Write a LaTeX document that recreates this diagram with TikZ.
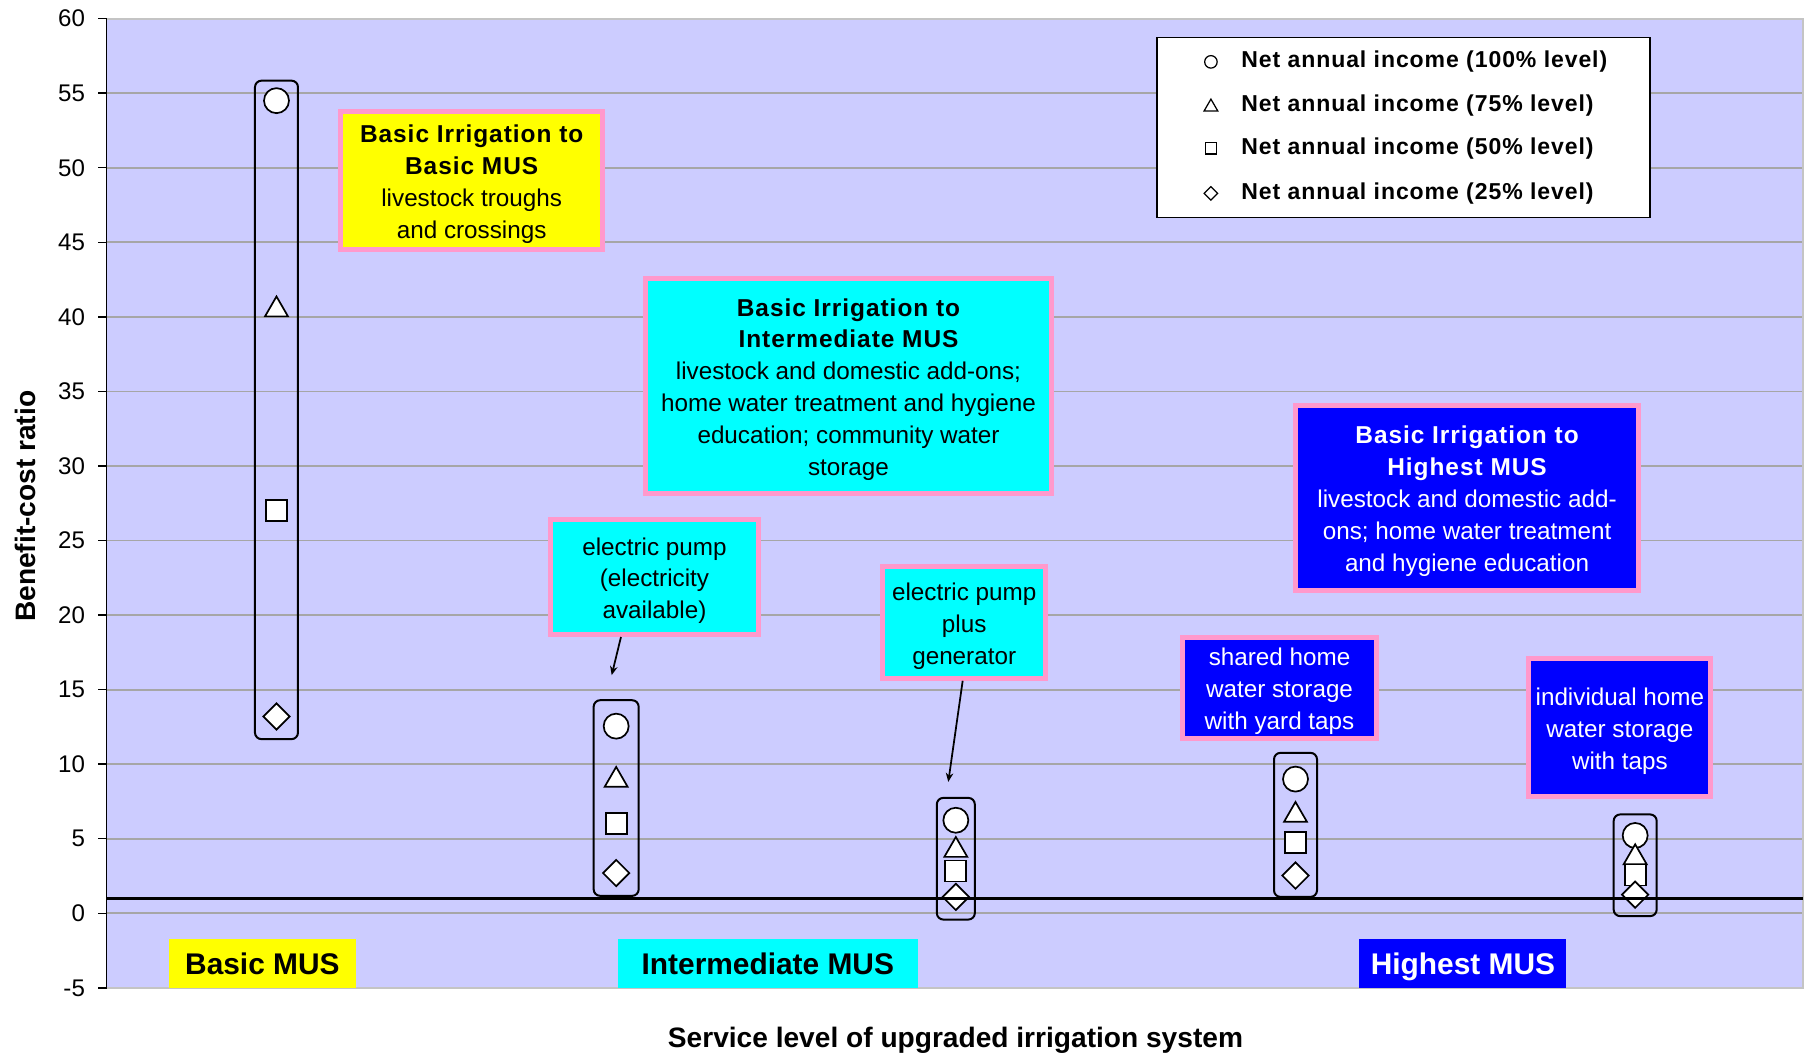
\documentclass[tikz,border=0pt]{standalone}
\usepackage{fontspec}
\setmainfont{Liberation Sans}
\newfontfamily\spacedfont[LetterSpace=4]{Liberation Sans}
\usetikzlibrary{arrows.meta,positioning,shapes.geometric}
\definecolor{plotbg}{HTML}{CCCCFF}
\definecolor{rim}{HTML}{FF99CC}
\definecolor{gridgray}{HTML}{A6A6A6}
\definecolor{edgegray}{HTML}{C4C4C4}
\definecolor{basicyellow}{HTML}{FFFF00}
\definecolor{midcyan}{HTML}{00FFFF}
\definecolor{topblue}{HTML}{0000FF}
\newcommand{\tfont}{\spacedfont\bfseries\fontsize{13.9}{18.2}\selectfont}
\newcommand{\topgap}{\rule{0pt}{14pt}}
\tikzset{
  gridline/.style={gridgray,line width=0.035cm},
  axisline/.style={black,line width=0.03cm},
  note/.style={draw=rim,line width=0.1cm,inner sep=0pt,align=center,
    font=\fontsize{13.8}{18.2}\selectfont},
  cattag/.style={inner sep=0pt,minimum height=0.968cm,text depth=0pt,
    font=\bfseries\fontsize{17}{20}\selectfont},
  groupbox/.style={draw,line width=0.04cm,rounded corners=0.13cm},
  mk/.style={draw,fill=white,line width=0.034cm,inner sep=0pt},
  mcirc/.style={mk,circle,minimum size=#1},
  mcirc/.default=0.5cm,
  mtri/.style={mk,regular polygon,regular polygon sides=3,minimum size=#1,yshift=-#1/8},
  mtri/.default=0.53cm,
  msq/.style={mk,rectangle,minimum size=#1},
  msq/.default=0.42cm,
  mdia/.style={mk,diamond,minimum size=#1},
  mdia/.default=0.54cm,
  ticklabel/.style={anchor=east,inner sep=0pt,font=\fontsize{13.7}{16}\selectfont},
  axislabel/.style={inner sep=0pt,font=\bfseries\fontsize{16}{18}\selectfont},
  legtext/.style={anchor=west,inner sep=0pt,
    font=\spacedfont\bfseries\fontsize{13.1}{16}\selectfont},
  pointer/.style={-{Stealth[length=0.18cm,width=0.15cm]},line width=0.035cm}
}

\begin{document}
\begin{tikzpicture}[x=6.793cm,y=0.2982cm]
  \path[use as bounding box,fill=white] (0.186,-9.39) rectangle (5.5,61.25);
  % plot area, grid and axis
  \fill[plotbg] (0.5,-5) rectangle (5.494,60);
  \foreach \v in {0,5,...,55}{\draw[gridline] (0.5,\v) -- (5.494,\v);}
  \draw[edgegray,line width=0.04cm] (0.5,60) -- (5.494,60) -- (5.494,-5) -- (0.5,-5);
  \draw[axisline] (0.5,-5) -- (0.5,60);
  \foreach \v in {-5,0,...,60}{
    \draw[axisline] (0.5,\v) -- ++(-0.18cm,0) node[ticklabel,xshift=-0.24cm] (tl\v) {\v};
  }
  \node[axislabel,rotate=90] (ylab) at (0.2595,27.3) {Benefit-cost ratio};
  \node[axislabel] (xlab) at (2.999,-8.55) {Service level of upgraded irrigation system};

  % ratio ranges per option
  \foreach \k/\w/\lo/\hi/\circv/\triv/\sqv/\diav in {
      1/0.43/11.68/55.84/54.5/40.7/27.0/13.2,
      2/0.45/1.17/14.29/12.55/9.15/6.0/2.7,
      3/0.38/-0.42/7.74/6.24/4.45/2.84/1.1,
      4/0.43/1.10/10.76/9.0/6.8/4.73/2.53,
      5/0.43/-0.19/6.63/5.22/3.96/2.56/1.25}{
    \draw[groupbox] ([xshift=-\w cm]\k,\lo) rectangle ([xshift=\w cm]\k,\hi);
    \node[mcirc] (c\k) at (\k,\circv) {};
    \node[mtri] (t\k) at (\k,\triv) {};
    \node[msq] (s\k) at (\k,\sqv) {};
    \node[mdia] (d\k) at (\k,\diav) {};
  }
  % break-even line
  \draw[line width=0.06cm] (0.5,1) -- (5.494,1);

  % notes
  \node[note,fill=basicyellow,minimum width=5.23cm,minimum height=2.75cm] (basic) at (1.5746,49.13)
    {\topgap{\tfont Basic Irrigation to}\\{\tfont Basic MUS}\\livestock troughs\\and crossings};
  \node[note,fill=midcyan,minimum width=8.13cm,minimum height=4.30cm] (inter) at (2.684,35.35)
    {\topgap{\tfont Basic Irrigation to}\\{\tfont Intermediate MUS}\\livestock and domestic add-ons;\\
     home water treatment and hygiene\\education; community water\\storage};
  \node[note,fill=topblue,text=white,minimum width=6.85cm,minimum height=3.71cm] (high) at (4.505,27.84)
    {\topgap{\tfont Basic Irrigation to}\\{\tfont Highest MUS}\\livestock and domestic add-\\
     ons; home water treatment\\and hygiene education};
  \node[note,fill=midcyan,minimum width=4.15cm,minimum height=2.29cm] (elec) at (2.1128,22.54)
    {\topgap electric pump\\(electricity\\available)};
  \node[note,fill=midcyan,minimum width=3.27cm,minimum height=2.23cm] (gen) at (3.0246,19.50)
    {\topgap electric pump\\plus\\generator};
  \node[note,fill=topblue,text=white,minimum width=3.88cm,minimum height=2.01cm] (shared) at (3.953,15.10)
    {\topgap shared home\\water storage\\with yard taps};
  \node[note,fill=topblue,text=white,minimum width=3.64cm,minimum height=2.75cm] (indiv) at (4.955,12.47)
    {\topgap individual home\\water storage\\with taps};

  \coordinate (tipA) at (1.9868,15.97);
  \coordinate (tipB) at (2.9778,8.81);
  \draw[pointer] ([xshift=-0.67cm]elec.south) -- (tipA);
  \draw[pointer] ([xshift=-0.03cm]gen.south) -- (tipB);

  % legend
  \node[draw,fill=white,line width=0.03cm,inner sep=0pt,minimum width=9.86cm,minimum height=3.6cm]
    (leg) at (4.318,52.70) {};
  \node[mcirc=0.25cm,line width=0.025cm] (lc) at (3.751,57.10) {};
  \node[mtri=0.32cm,line width=0.025cm] (lt) at (3.751,54.20) {};
  \node[msq=0.23cm,line width=0.025cm] (ls) at (3.751,51.30) {};
  \node[mdia=0.28cm,line width=0.025cm] (ld) at (3.751,48.28) {};
  \node[legtext] (lcx) at (3.8395,57.10) {Net annual income (100\% level)};
  \node[legtext] (ltx) at (3.8395,54.20) {Net annual income (75\% level)};
  \node[legtext] (lsx) at (3.8395,51.30) {Net annual income (50\% level)};
  \node[legtext] (ldx) at (3.8395,48.28) {Net annual income (25\% level)};

  % service level tags
  \node[cattag,fill=basicyellow,minimum width=3.73cm] (tagb) at (0.9585,-3.379) {Basic MUS};
  \node[cattag,fill=midcyan,minimum width=5.99cm] (tagi) at (2.4465,-3.379) {Intermediate MUS};
  \node[cattag,fill=topblue,text=white,minimum width=4.14cm] (tagh) at (4.493,-3.379) {Highest MUS};
\end{tikzpicture}
\end{document}
